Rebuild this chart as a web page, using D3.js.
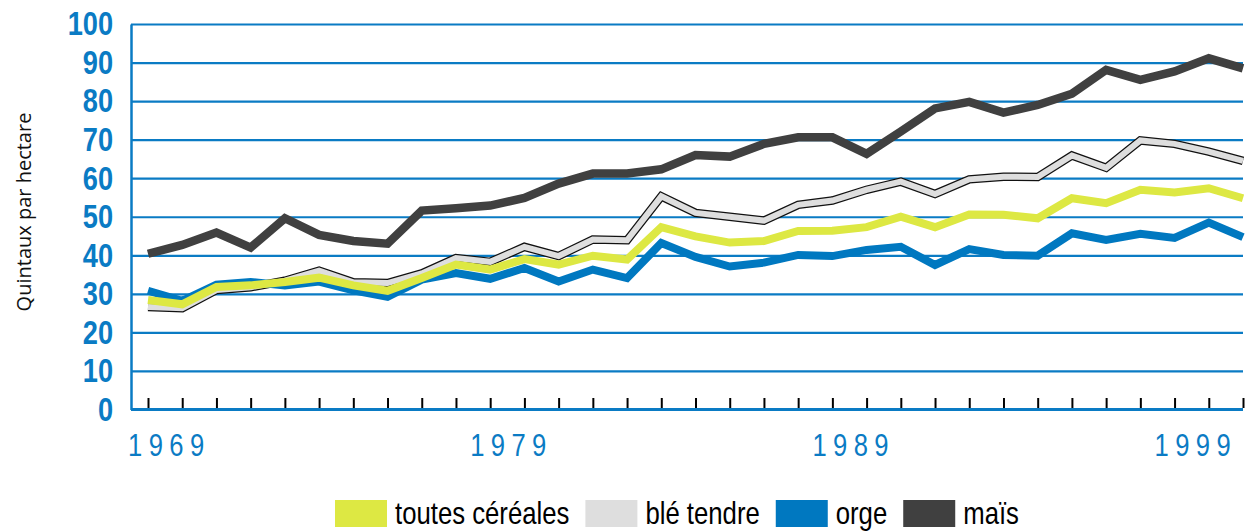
<!DOCTYPE html>
<html>
<head>
<meta charset="utf-8">
<script src="https://cdn.jsdelivr.net/npm/d3@7"></script>
<style>
body { margin: 0; background: #fff; }
</style>
</head>
<body>
<div id="chart"></div>
<script>
var width = 1258,
    height = 531;

// years 1969 - 2001
var years = [1969, 1970, 1971, 1972, 1973, 1974, 1975, 1976, 1977, 1978,
             1979, 1980, 1981, 1982, 1983, 1984, 1985, 1986, 1987, 1988,
             1989, 1990, 1991, 1992, 1993, 1994, 1995, 1996, 1997, 1998,
             1999, 2000, 2001];
var yearLabels = [1969, 1979, 1989, 1999];
var yTicks = [0, 10, 20, 30, 40, 50, 60, 70, 80, 90, 100];

// quintaux par hectare
var toutesCereales = [28.4, 27.3, 31.8, 32.2, 33.1, 34.2, 32.2, 30.8, 34.1, 37.6,
                      36.3, 39.0, 37.6, 39.9, 38.9, 47.3, 44.9, 43.3, 43.7, 46.3,
                      46.4, 47.3, 50.0, 47.3, 50.6, 50.5, 49.6, 54.8, 53.5, 57.0,
                      56.3, 57.4, 54.8];
var bleTendre = [26.6, 26.3, 31.0, 31.7, 33.4, 36.0, 33.0, 32.8, 35.3, 39.3,
                 38.3, 42.2, 39.8, 44.1, 43.9, 55.3, 51.0, 50.0, 49.0, 53.1,
                 54.2, 57.0, 59.1, 55.9, 59.7, 60.4, 60.3, 65.9, 62.7, 69.8,
                 68.9, 66.9, 64.5];
var orge = [30.8, 28.2, 32.4, 33.1, 32.2, 33.2, 30.9, 29.2, 33.7, 35.4,
            33.9, 36.7, 33.2, 36.3, 34.1, 43.2, 39.6, 37.1, 38.1, 40.1,
            39.8, 41.4, 42.2, 37.5, 41.6, 40.1, 39.9, 45.7, 44.0, 45.6,
            44.5, 48.5, 44.7];
var mais = [40.4, 42.7, 45.9, 42.0, 49.6, 45.3, 43.7, 43.0, 51.6, 52.2,
            52.9, 54.9, 58.6, 61.2, 61.2, 62.3, 66.0, 65.6, 68.9, 70.6,
            70.6, 66.3, 72.1, 78.1, 79.8, 77.0, 79.0, 81.9, 88.1, 85.5,
            87.7, 91.1, 88.5];

var seriesNames = ['toutes céréales', 'blé tendre', 'orge', 'maïs'];
var seriesColors = ['#dde843', '#dedede', '#0078c0', '#404040'];

var blue = '#0a7bc4',
    font = '"Liberation Sans", Arial, sans-serif',
    squeeze = 0.8,   // fake a condensed face
    plotLeft = 131,
    plotRight = 1243;

var x = d3.scaleLinear().domain([1969, 2001]).range([148, 1243]);
var y = d3.scaleLinear().domain([0, 100]).range([409.5, 24]);

var svg = d3.select('#chart').append('svg')
    .attr('width', width)
    .attr('height', height)
    .style('display', 'block');

// y axis with grid lines
var yAxis = svg.append('g')
    .attr('transform', 'translate(' + plotLeft + ',0)')
    .call(d3.axisLeft(y).tickValues(yTicks).tickSize(-(plotRight - plotLeft))
        .tickSizeOuter(0).tickPadding(18));
yAxis.select('.domain').attr('stroke', blue).attr('stroke-width', 2.5);
yAxis.selectAll('.tick line').attr('stroke', blue).attr('stroke-width', 2.2);
yAxis.selectAll('.tick text')
    .attr('x', -18 / squeeze)
    .attr('transform', 'scale(' + squeeze + ',1)')
    .attr('fill', blue)
    .style('font-family', font)
    .style('font-size', '34px')
    .style('font-weight', 'bold');

// x axis ticks
var xAxis = svg.append('g')
    .attr('transform', 'translate(0,' + y(0) + ')')
    .call(d3.axisBottom(x).tickValues(years).tickSize(-10).tickFormat(''));
xAxis.select('.domain').remove();
xAxis.selectAll('.tick line').attr('stroke', '#000').attr('stroke-width', 2)
    .attr('transform', 'translate(0,-1.5)');
svg.append('line')
    .attr('x1', plotLeft).attr('x2', plotRight)
    .attr('y1', y(0)).attr('y2', y(0))
    .attr('stroke', blue).attr('stroke-width', 3);

svg.selectAll('.year-label').data(yearLabels)
  .enter().append('text')
    .attr('class', 'year-label')
    .attr('transform', function (d) {
        return 'translate(' + (x(d) - 20) + ',456) scale(' + squeeze + ',1)';
    })
    .attr('fill', blue)
    .style('font-family', font)
    .style('font-size', '32px')
    .style('letter-spacing', '8px')
    .text(function (d) { return d; });

// y title
svg.append('text')
    .attr('transform', 'translate(31,212) rotate(-90)')
    .attr('text-anchor', 'middle')
    .attr('fill', '#111')
    .style('font-family', '"Open Sans", sans-serif')
    .style('font-size', '20px')
    .text('Quintaux par hectare');

var line = d3.line()
    .x(function (d, i) { return x(years[i]); })
    .y(function (d) { return y(d); });

function drawLine(data, color, w) {
    svg.append('path')
        .datum(data)
        .attr('d', line)
        .attr('fill', 'none')
        .attr('stroke', color)
        .attr('stroke-width', w)
        .attr('stroke-linejoin', 'miter')
        .attr('stroke-linecap', 'butt');
}

// blé tendre has a black outline
drawLine(bleTendre, '#111', 8.5);
drawLine(bleTendre, seriesColors[1], 6);
drawLine(orge, seriesColors[2], 8);
drawLine(toutesCereales, seriesColors[0], 8);
drawLine(mais, seriesColors[3], 8.5);

// legend
var lx = 335;
seriesNames.forEach(function (name, i) {
    svg.append('rect')
        .attr('x', lx).attr('y', 500)
        .attr('width', 52).attr('height', 27)
        .attr('fill', seriesColors[i]);
    var t = svg.append('text')
        .attr('transform', 'translate(' + (lx + 60) + ',524) scale(0.83,1)')
        .attr('fill', '#000')
        .style('font-family', font)
        .style('font-size', '31px')
        .text(name);
    lx = lx + 60 + t.node().getComputedTextLength() * 0.83 + 16;
});
</script>
</body>
</html>
